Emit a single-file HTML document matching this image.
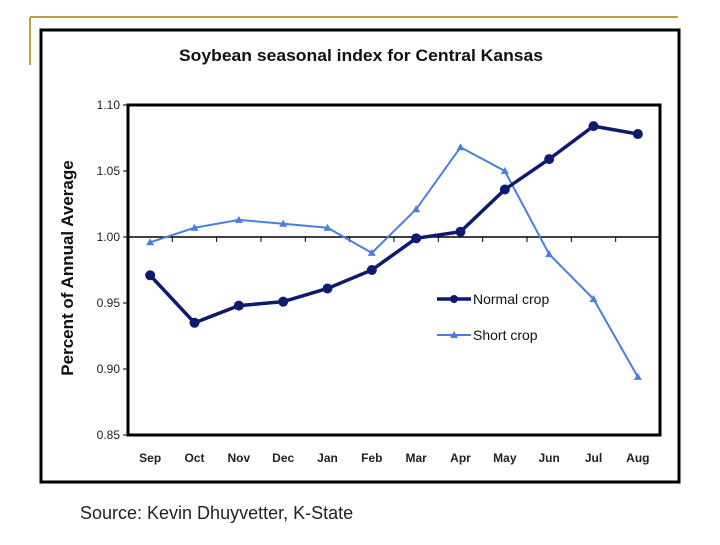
<!DOCTYPE html>
<html><head><meta charset="utf-8"><style>
body{margin:0;background:#fff;width:720px;height:540px;overflow:hidden;font-family:"Liberation Sans",Arial,sans-serif}
</style></head><body>
<svg width="720" height="540" id="svg">
<line x1="30" y1="17" x2="678" y2="17" stroke="#b8a43c" stroke-width="2"/>
<line x1="30" y1="17" x2="30" y2="65" stroke="#b8a43c" stroke-width="2"/>
<rect x="41" y="30" width="638" height="452" fill="#fff" stroke="#000" stroke-width="3"/>
<text x="361" y="61" text-anchor="middle" font-size="17" font-weight="bold" fill="#111" textLength="364" lengthAdjust="spacingAndGlyphs">Soybean seasonal index for Central Kansas</text>
<text transform="translate(73,268) rotate(-90)" text-anchor="middle" font-size="17" font-weight="bold" fill="#111">Percent of Annual Average</text>
<text x="80" y="519" font-size="18" fill="#222">Source: Kevin Dhuyvetter, K-State</text>
<g id="plot"></g>
</svg>
<script>
const months=["Sep","Oct","Nov","Dec","Jan","Feb","Mar","Apr","May","Jun","Jul","Aug"];
const normalCrop=[0.971,0.935,0.948,0.951,0.961,0.975,0.999,1.004,1.036,1.059,1.084,1.078];
const shortCrop=[0.996,1.007,1.013,1.010,1.007,0.988,1.021,1.068,1.050,0.987,0.953,0.894];
const yTicks=[0.85,0.90,0.95,1.00,1.05,1.10];
const NS="http://www.w3.org/2000/svg";
const L=128,R=660,T=105,B=435,yMin=0.85,yMax=1.10;
const step=(R-L)/months.length;
const xS=i=>L+step*(i+0.5);
const yS=v=>B-(v-yMin)/(yMax-yMin)*(B-T);
const g=document.getElementById('plot');
function mk(tag,attrs){const e=document.createElementNS(NS,tag);for(const k in attrs)e.setAttribute(k,attrs[k]);g.appendChild(e);return e;}
let e=mk('rect',{x:L,y:T,width:R-L,height:B-T,fill:'none',stroke:'#000','stroke-width':3});


yTicks.forEach(v=>{
 const t=mk('line',{x1:L-5,x2:L,y1:yS(v),y2:yS(v),stroke:'#000'});
 
 
 const tx=mk('text',{x:L-8,y:yS(v)+4,'text-anchor':'end','font-size':12,fill:'#222'});
 tx.textContent=v.toFixed(2);
 
 
});
e=mk('line',{x1:L,x2:R,y1:yS(1),y2:yS(1),stroke:'#000','stroke-width':1.5});


months.forEach((m,i)=>{
 if(i>0){const t=mk('line',{x1:L+step*i,x2:L+step*i,y1:yS(1),y2:yS(1)+5,stroke:'#000'});
 
 }
 const tx=mk('text',{x:xS(i),y:462,'text-anchor':'middle','font-size':12,'font-weight':'bold',fill:'#222'});
 tx.textContent=m;
 
 
});
function series(vals,color,w,name,marker){
 const p=mk('polyline',{points:vals.map((v,i)=>xS(i)+','+yS(v)).join(' '),fill:'none',stroke:color,'stroke-width':w});
 
 
 vals.forEach((v,i)=>{
  let m;
  if(marker==='circle')m=mk('circle',{cx:xS(i),cy:yS(v),r:5,fill:color});
  else {const x=xS(i),y=yS(v);m=mk('polygon',{points:`${x},${y-4} ${x-4},${y+3} ${x+4},${y+3}`,fill:color});}
  
  
 });
}
series(shortCrop,'#4a7fe0',2,'short-crop','tri');
series(normalCrop,'#0d1a6e',3.5,'normal-crop','circle');
e=mk('line',{x1:437,x2:471,y1:299,y2:299,stroke:'#0d1a6e','stroke-width':3.5});


e=mk('circle',{cx:454,cy:299,r:4,fill:'#0d1a6e'});


e=mk('text',{x:473,y:304,'font-size':14,fill:'#111'});e.textContent='Normal crop';


e=mk('line',{x1:437,x2:471,y1:335,y2:335,stroke:'#4a7fe0','stroke-width':2});


e=mk('polygon',{points:'454,331 450,338 458,338',fill:'#4a7fe0'});


e=mk('text',{x:473,y:340,'font-size':14,fill:'#111'});e.textContent='Short crop';


</script>
</body></html>
